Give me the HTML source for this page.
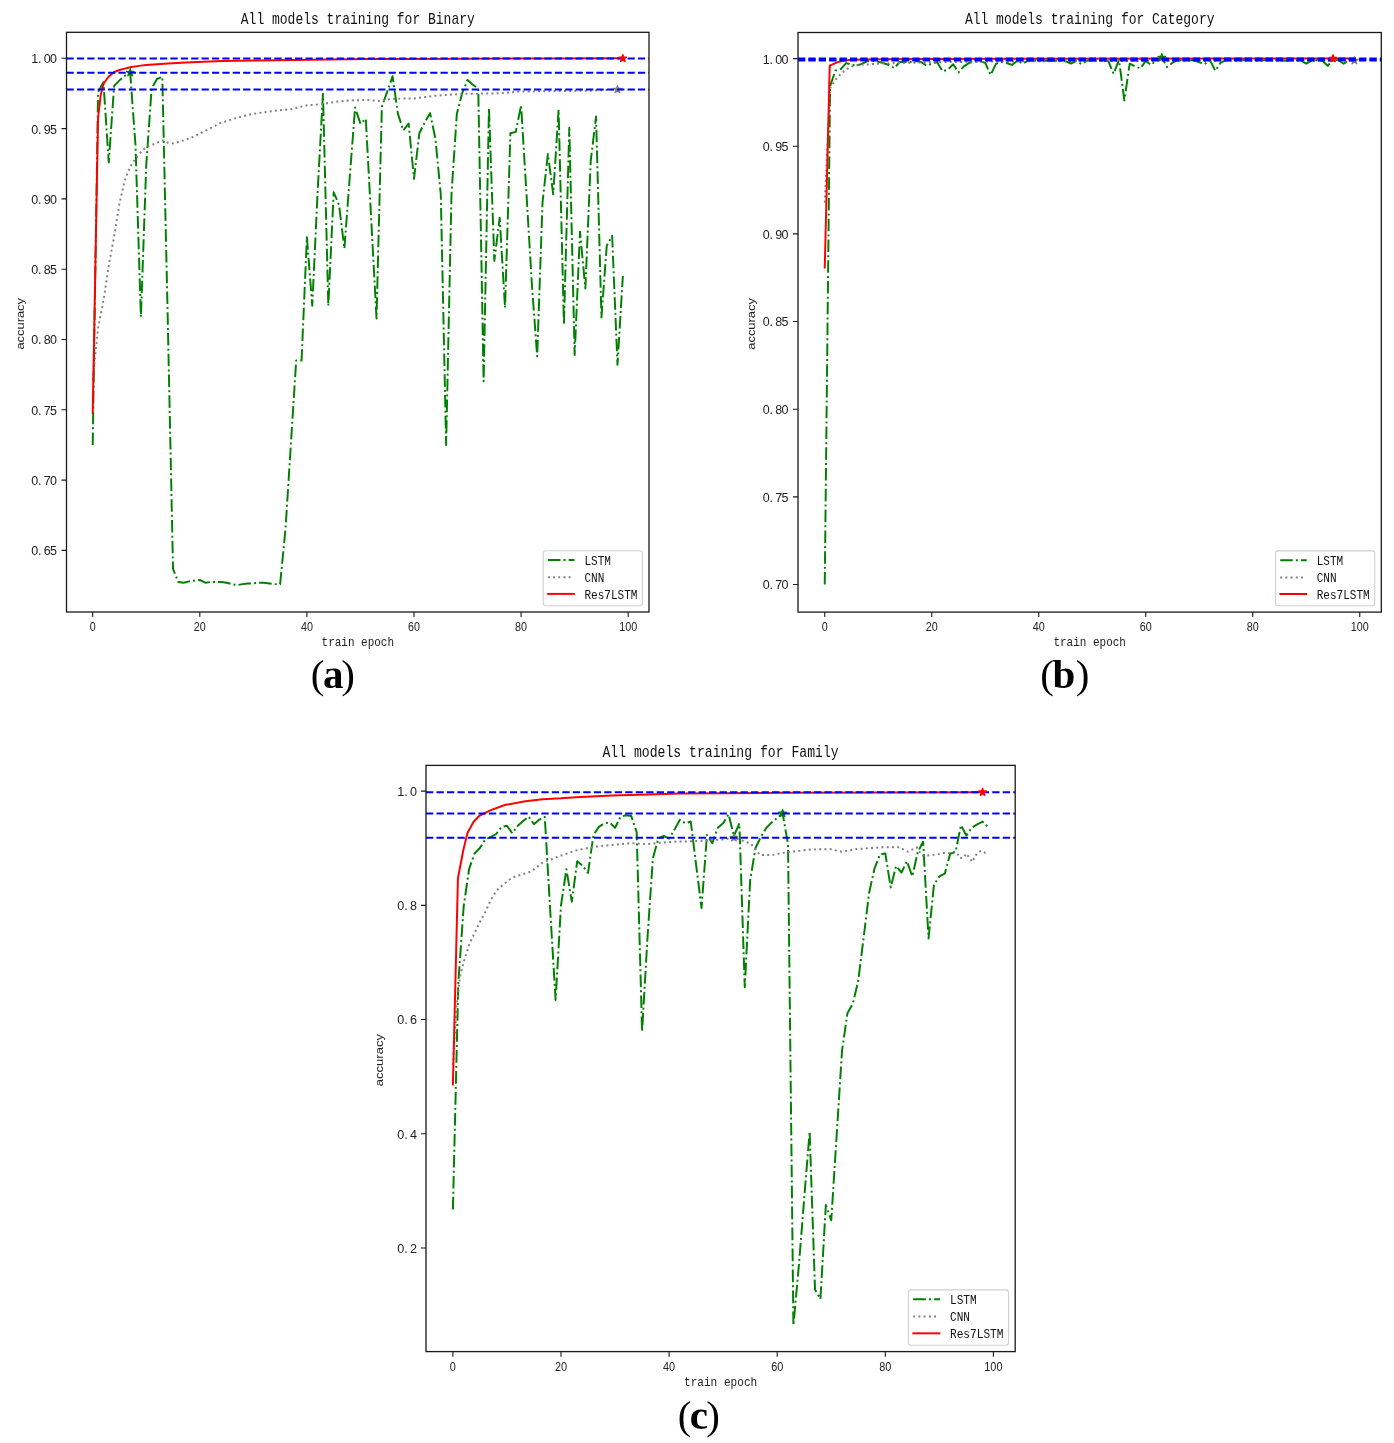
<!DOCTYPE html>
<html><head><meta charset="utf-8"><title>training charts</title>
<style>html,body{margin:0;padding:0;background:#fff;width:1394px;height:1443px;overflow:hidden}svg{display:block;will-change:transform}</style>
</head><body>
<svg width="1394" height="1443" viewBox="0 0 1394 1443">
<rect width="1394" height="1443" fill="#fff"/>
<clipPath id="clipa"><rect x="66.50" y="32.30" width="582.50" height="579.70"/></clipPath>
<g clip-path="url(#clipa)" fill="none" stroke-width="1.960" stroke-linejoin="round">
<polyline points="92.70,444.95 98.06,92.04 103.41,82.20 108.77,162.34 114.12,85.86 119.48,80.37 124.83,75.73 130.19,72.64 135.54,146.18 140.90,317.00 146.25,165.16 151.61,88.67 156.96,78.97 162.31,76.86 167.67,315.60 173.03,568.96 178.38,582.04 183.74,582.74 189.09,581.33 194.44,580.63 199.80,579.93 205.16,582.74 210.51,582.04 215.87,582.04 221.22,582.04 226.57,582.74 231.93,584.14 237.29,585.13 242.64,584.14 248.00,583.44 253.35,583.44 258.71,582.74 264.06,582.74 269.42,583.44 274.77,584.14 280.12,584.14 285.48,529.31 290.84,444.95 296.19,360.59 301.55,360.59 306.90,237.14 312.25,305.76 317.61,192.29 322.97,93.73 328.32,305.76 333.68,192.29 339.03,204.81 344.39,248.53 349.74,177.25 355.10,107.51 360.45,123.68 365.81,118.76 371.16,218.58 376.51,318.41 381.87,106.81 387.23,91.62 392.58,76.30 397.94,113.84 403.29,130.43 408.65,123.54 414.00,178.93 419.36,133.24 424.71,122.55 430.06,113.13 435.42,138.72 440.78,194.26 446.13,445.09 451.49,194.26 456.84,113.84 462.19,93.03 467.55,79.95 472.91,84.73 478.26,88.81 483.62,381.26 488.97,108.21 494.33,260.76 499.68,217.74 505.04,307.87 510.39,133.24 515.75,131.83 521.10,105.40 526.46,193.56 531.81,283.26 537.17,356.37 542.52,202.42 547.88,153.91 553.23,194.26 558.59,109.62 563.94,324.46 569.30,127.62 574.65,354.97 580.01,231.66 585.36,288.46 590.72,160.94 596.07,116.51 601.43,317.43 606.78,245.44 612.14,235.74 617.49,364.81 622.85,275.95" stroke="#008000" stroke-dasharray="12.540,3.140,1.960,3.140"/>
<polyline points="92.70,380.00 98.06,328.00 103.41,301.00 108.77,265.50 114.12,236.40 119.48,203.20 124.83,180.30 130.19,166.80 135.54,158.50 140.90,152.20 146.25,147.00 151.61,145.00 156.96,142.90 162.31,140.40 167.67,142.50 173.03,143.50 178.38,142.00 190.70,138.10 205.69,130.60 220.68,123.00 236.21,118.00 251.21,114.20 258.71,113.00 276.38,110.50 291.37,109.20 306.36,105.40 321.36,104.20 336.35,101.70 349.74,100.40 367.41,100.00 379.73,101.00 392.04,98.70 413.46,98.50 435.42,95.70 463.27,93.80 491.11,93.50 505.04,93.00 518.42,91.60 560.19,91.00 588.04,90.80 617.49,89.60 622.85,89.60" stroke="#808080" stroke-dasharray="1.960,3.230"/>
<polyline points="92.70,413.00 98.06,118.00 100.73,95.00 103.41,84.20 106.09,80.00 108.77,76.50 114.12,72.00 119.48,70.00 124.83,68.60 130.19,67.30 135.54,66.40 140.90,65.60 146.25,65.00 150.00,64.70 167.67,63.50 185.88,62.60 221.76,61.10 257.63,60.40 293.51,59.90 329.39,59.50 365.27,59.00 400.08,59.00 467.55,58.70 547.88,58.50 622.85,58.30" stroke="#ff0000" stroke-linecap="square"/>
<path d="M130.19,68.70 L131.06,71.39 L133.89,71.39 L131.60,73.06 L132.48,75.76 L130.19,74.09 L127.89,75.76 L128.77,73.06 L126.48,71.39 L129.31,71.39 Z" fill="#008000" stroke="#008000" stroke-width="1.30"/>
<path d="M617.49,85.60 L618.37,88.29 L621.20,88.29 L618.91,89.96 L619.78,92.66 L617.49,90.99 L615.20,92.66 L616.07,89.96 L613.78,88.29 L616.61,88.29 Z" fill="#808080" stroke="#808080" stroke-width="1.30"/>
<line x1="66.50" y1="58.40" x2="649.00" y2="58.40" stroke="#0000ff" stroke-dasharray="7.250,3.140"/>
<line x1="66.50" y1="72.70" x2="649.00" y2="72.70" stroke="#0000ff" stroke-dasharray="7.250,3.140"/>
<line x1="66.50" y1="89.40" x2="649.00" y2="89.40" stroke="#0000ff" stroke-dasharray="7.250,3.140"/>
<path d="M622.85,54.50 L623.72,57.19 L626.55,57.19 L624.26,58.86 L625.14,61.56 L622.85,59.89 L620.55,61.56 L621.43,58.86 L619.14,57.19 L621.97,57.19 Z" fill="#ff0000" stroke="#ff0000" stroke-width="1.30"/>
</g>
<rect x="66.50" y="32.30" width="582.50" height="579.70" fill="none" stroke="#1a1a1a" stroke-width="1.30"/>
<path d="M92.70,612.00v5.00 M199.80,612.00v5.00 M306.90,612.00v5.00 M414.00,612.00v5.00 M521.10,612.00v5.00 M628.20,612.00v5.00 M66.50,58.30h-5.00 M66.50,128.60h-5.00 M66.50,198.90h-5.00 M66.50,269.20h-5.00 M66.50,339.50h-5.00 M66.50,409.80h-5.00 M66.50,480.10h-5.00 M66.50,550.40h-5.00" stroke="#1a1a1a" stroke-width="1.10" fill="none"/>
<text x="92.7" y="630.8" font-family="Liberation Sans" font-size="12.10" font-weight="normal" text-anchor="middle" fill="#222" textLength="6.0" lengthAdjust="spacingAndGlyphs">0</text>
<text x="199.8" y="630.8" font-family="Liberation Sans" font-size="12.10" font-weight="normal" text-anchor="middle" fill="#222" textLength="12.0" lengthAdjust="spacingAndGlyphs">20</text>
<text x="306.9" y="630.8" font-family="Liberation Sans" font-size="12.10" font-weight="normal" text-anchor="middle" fill="#222" textLength="12.0" lengthAdjust="spacingAndGlyphs">40</text>
<text x="414.0" y="630.8" font-family="Liberation Sans" font-size="12.10" font-weight="normal" text-anchor="middle" fill="#222" textLength="12.0" lengthAdjust="spacingAndGlyphs">60</text>
<text x="521.1" y="630.8" font-family="Liberation Sans" font-size="12.10" font-weight="normal" text-anchor="middle" fill="#222" textLength="12.0" lengthAdjust="spacingAndGlyphs">80</text>
<text x="628.2" y="630.8" font-family="Liberation Sans" font-size="12.10" font-weight="normal" text-anchor="middle" fill="#222" textLength="18.0" lengthAdjust="spacingAndGlyphs">100</text>
<text x="34.70 39.70 47.30 53.60" y="63.20" font-family="Liberation Sans" font-size="12.50" text-anchor="middle" fill="#222">1.00</text>
<text x="34.70 39.70 47.30 53.60" y="133.50" font-family="Liberation Sans" font-size="12.50" text-anchor="middle" fill="#222">0.95</text>
<text x="34.70 39.70 47.30 53.60" y="203.80" font-family="Liberation Sans" font-size="12.50" text-anchor="middle" fill="#222">0.90</text>
<text x="34.70 39.70 47.30 53.60" y="274.10" font-family="Liberation Sans" font-size="12.50" text-anchor="middle" fill="#222">0.85</text>
<text x="34.70 39.70 47.30 53.60" y="344.40" font-family="Liberation Sans" font-size="12.50" text-anchor="middle" fill="#222">0.80</text>
<text x="34.70 39.70 47.30 53.60" y="414.70" font-family="Liberation Sans" font-size="12.50" text-anchor="middle" fill="#222">0.75</text>
<text x="34.70 39.70 47.30 53.60" y="485.00" font-family="Liberation Sans" font-size="12.50" text-anchor="middle" fill="#222">0.70</text>
<text x="34.70 39.70 47.30 53.60" y="555.30" font-family="Liberation Sans" font-size="12.50" text-anchor="middle" fill="#222">0.65</text>
<text x="357.8" y="23.8" font-family="Liberation Mono" font-size="16.20" font-weight="normal" text-anchor="middle" fill="#111" textLength="234.0" lengthAdjust="spacingAndGlyphs">All models training for Binary</text>
<text x="357.8" y="645.8" font-family="Liberation Mono" font-size="12.40" font-weight="normal" text-anchor="middle" fill="#222" textLength="72.5" lengthAdjust="spacingAndGlyphs">train epoch</text>
<text transform="translate(23.9,323.8) rotate(-90)" font-family="Liberation Sans" font-size="11.50" text-anchor="middle" fill="#222" textLength="51.60" lengthAdjust="spacingAndGlyphs">accuracy</text>
<rect x="543.20" y="550.80" width="99.20" height="54.90" rx="2.60" fill="#fff" fill-opacity="0.8" stroke="#d0d0d0" stroke-width="1.10"/>
<line x1="547.90" y1="560.10" x2="574.50" y2="560.10" stroke="#008000" stroke-width="1.960" stroke-dasharray="12.540,3.140,1.960,3.140"/>
<text x="584.4" y="564.7" font-family="Liberation Mono" font-size="12.90" font-weight="normal" text-anchor="start" fill="#111" textLength="26.5" lengthAdjust="spacingAndGlyphs">LSTM</text>
<line x1="547.90" y1="577.30" x2="573.50" y2="577.30" stroke="#808080" stroke-width="1.960" stroke-dasharray="1.960,3.230"/>
<text x="584.4" y="581.9" font-family="Liberation Mono" font-size="12.90" font-weight="normal" text-anchor="start" fill="#111" textLength="19.9" lengthAdjust="spacingAndGlyphs">CNN</text>
<line x1="548.10" y1="593.90" x2="573.90" y2="593.90" stroke="#ff0000" stroke-width="1.960" stroke-linecap="square"/>
<text x="584.4" y="598.5" font-family="Liberation Mono" font-size="12.90" font-weight="normal" text-anchor="start" fill="#111" textLength="53.0" lengthAdjust="spacingAndGlyphs">Res7LSTM</text>
<text x="317.50 348.20" y="688.3" font-family="Liberation Serif" font-size="41.0" text-anchor="middle" fill="#000">()</text>
<text x="333.30" y="688.3" font-family="Liberation Serif" font-weight="bold" font-size="41.0" text-anchor="middle" fill="#000">a</text>
<clipPath id="clipb"><rect x="798.00" y="32.50" width="583.30" height="579.60"/></clipPath>
<g clip-path="url(#clipb)" fill="none" stroke-width="1.960" stroke-linejoin="round">
<polyline points="824.75,584.50 830.10,86.00 835.45,70.50 840.80,69.20 846.15,63.10 851.50,64.50 856.85,65.70 862.20,63.70 867.55,61.10 872.90,60.80 878.25,61.80 883.60,63.10 888.95,65.00 894.30,68.10 899.65,62.00 905.00,62.00 910.35,62.00 915.70,61.00 921.05,62.00 926.40,65.50 931.75,63.80 937.10,62.00 942.45,71.10 947.80,69.80 953.15,64.20 958.50,72.40 963.85,66.40 969.20,62.90 974.55,61.60 979.90,61.20 985.25,62.90 990.60,75.00 995.95,63.80 1001.30,62.00 1006.65,63.00 1012.00,64.90 1017.35,60.70 1022.70,63.50 1028.05,60.70 1033.40,60.40 1038.75,60.40 1044.10,60.70 1049.45,60.40 1054.80,60.70 1060.15,60.70 1065.50,61.20 1070.85,63.50 1076.20,61.20 1081.55,64.00 1086.90,60.70 1092.25,60.40 1097.60,60.40 1102.95,60.70 1108.30,61.20 1113.65,73.80 1119.00,59.80 1124.35,100.40 1129.70,63.70 1135.05,66.50 1140.40,68.30 1145.75,61.00 1151.10,65.00 1156.45,60.00 1161.80,57.60 1167.15,66.90 1172.50,62.70 1177.85,60.10 1183.20,60.20 1188.55,60.20 1193.90,60.20 1199.25,62.30 1204.60,64.10 1209.95,60.10 1215.30,70.70 1220.65,62.70 1226.00,60.20 1231.35,60.20 1236.70,60.20 1242.05,60.20 1247.40,60.20 1252.75,60.20 1258.10,60.20 1263.45,60.20 1268.80,60.20 1274.15,60.20 1279.50,60.20 1284.85,60.80 1290.20,60.20 1295.55,60.20 1300.90,60.70 1306.25,63.70 1311.60,60.70 1316.95,60.20 1322.30,60.70 1327.65,65.80 1333.00,59.70 1338.35,60.20 1343.70,63.70 1349.05,60.20 1354.40,60.70" stroke="#008000" stroke-dasharray="12.540,3.140,1.960,3.140"/>
<polyline points="824.75,202.60 830.10,88.00 835.77,79.50 839.20,75.70 842.94,72.10 847.22,68.90 851.50,66.60 856.32,65.30 861.66,64.70 867.01,64.40 878.25,63.70 894.30,63.10 931.75,62.30 985.25,61.60 1092.25,61.00 1199.25,60.80 1354.40,60.60" stroke="#808080" stroke-dasharray="1.960,3.230"/>
<polyline points="824.75,267.50 829.73,65.70 837.05,62.40 844.01,60.50 851.50,59.80 878.25,59.30 931.75,58.90 1038.75,58.70 1333.00,58.50 1354.40,58.50" stroke="#ff0000" stroke-linecap="square"/>
<path d="M1161.80,53.70 L1162.68,56.39 L1165.51,56.39 L1163.22,58.06 L1164.09,60.76 L1161.80,59.09 L1159.51,60.76 L1160.38,58.06 L1158.09,56.39 L1160.92,56.39 Z" fill="#008000" stroke="#008000" stroke-width="1.30"/>
<path d="M1354.40,56.70 L1355.28,59.39 L1358.11,59.39 L1355.82,61.06 L1356.69,63.76 L1354.40,62.09 L1352.11,63.76 L1352.98,61.06 L1350.69,59.39 L1353.52,59.39 Z" fill="#808080" stroke="#808080" stroke-width="1.30"/>
<line x1="798.00" y1="58.60" x2="1381.30" y2="58.60" stroke="#0000ff" stroke-dasharray="7.250,3.140"/>
<line x1="798.00" y1="59.50" x2="1381.30" y2="59.50" stroke="#0000ff" stroke-dasharray="7.250,3.140"/>
<line x1="798.00" y1="60.60" x2="1381.30" y2="60.60" stroke="#0000ff" stroke-dasharray="7.250,3.140"/>
<path d="M1333.00,54.60 L1333.88,57.29 L1336.71,57.29 L1334.42,58.96 L1335.29,61.66 L1333.00,59.99 L1330.71,61.66 L1331.58,58.96 L1329.29,57.29 L1332.12,57.29 Z" fill="#ff0000" stroke="#ff0000" stroke-width="1.30"/>
</g>
<rect x="798.00" y="32.50" width="583.30" height="579.60" fill="none" stroke="#1a1a1a" stroke-width="1.30"/>
<path d="M824.75,612.10v5.00 M931.75,612.10v5.00 M1038.75,612.10v5.00 M1145.75,612.10v5.00 M1252.75,612.10v5.00 M1359.75,612.10v5.00 M798.00,58.60h-5.00 M798.00,146.25h-5.00 M798.00,233.90h-5.00 M798.00,321.55h-5.00 M798.00,409.20h-5.00 M798.00,496.85h-5.00 M798.00,584.50h-5.00" stroke="#1a1a1a" stroke-width="1.10" fill="none"/>
<text x="824.8" y="630.9" font-family="Liberation Sans" font-size="12.10" font-weight="normal" text-anchor="middle" fill="#222" textLength="6.0" lengthAdjust="spacingAndGlyphs">0</text>
<text x="931.8" y="630.9" font-family="Liberation Sans" font-size="12.10" font-weight="normal" text-anchor="middle" fill="#222" textLength="12.0" lengthAdjust="spacingAndGlyphs">20</text>
<text x="1038.8" y="630.9" font-family="Liberation Sans" font-size="12.10" font-weight="normal" text-anchor="middle" fill="#222" textLength="12.0" lengthAdjust="spacingAndGlyphs">40</text>
<text x="1145.8" y="630.9" font-family="Liberation Sans" font-size="12.10" font-weight="normal" text-anchor="middle" fill="#222" textLength="12.0" lengthAdjust="spacingAndGlyphs">60</text>
<text x="1252.8" y="630.9" font-family="Liberation Sans" font-size="12.10" font-weight="normal" text-anchor="middle" fill="#222" textLength="12.0" lengthAdjust="spacingAndGlyphs">80</text>
<text x="1359.8" y="630.9" font-family="Liberation Sans" font-size="12.10" font-weight="normal" text-anchor="middle" fill="#222" textLength="18.0" lengthAdjust="spacingAndGlyphs">100</text>
<text x="766.20 771.20 778.80 785.10" y="63.50" font-family="Liberation Sans" font-size="12.50" text-anchor="middle" fill="#222">1.00</text>
<text x="766.20 771.20 778.80 785.10" y="151.15" font-family="Liberation Sans" font-size="12.50" text-anchor="middle" fill="#222">0.95</text>
<text x="766.20 771.20 778.80 785.10" y="238.80" font-family="Liberation Sans" font-size="12.50" text-anchor="middle" fill="#222">0.90</text>
<text x="766.20 771.20 778.80 785.10" y="326.45" font-family="Liberation Sans" font-size="12.50" text-anchor="middle" fill="#222">0.85</text>
<text x="766.20 771.20 778.80 785.10" y="414.10" font-family="Liberation Sans" font-size="12.50" text-anchor="middle" fill="#222">0.80</text>
<text x="766.20 771.20 778.80 785.10" y="501.75" font-family="Liberation Sans" font-size="12.50" text-anchor="middle" fill="#222">0.75</text>
<text x="766.20 771.20 778.80 785.10" y="589.40" font-family="Liberation Sans" font-size="12.50" text-anchor="middle" fill="#222">0.70</text>
<text x="1089.7" y="24.0" font-family="Liberation Mono" font-size="16.20" font-weight="normal" text-anchor="middle" fill="#111" textLength="249.6" lengthAdjust="spacingAndGlyphs">All models training for Category</text>
<text x="1089.7" y="645.9" font-family="Liberation Mono" font-size="12.40" font-weight="normal" text-anchor="middle" fill="#222" textLength="72.5" lengthAdjust="spacingAndGlyphs">train epoch</text>
<text transform="translate(755.4,323.9) rotate(-90)" font-family="Liberation Sans" font-size="11.50" text-anchor="middle" fill="#222" textLength="51.60" lengthAdjust="spacingAndGlyphs">accuracy</text>
<rect x="1275.50" y="550.90" width="99.20" height="54.90" rx="2.60" fill="#fff" fill-opacity="0.8" stroke="#d0d0d0" stroke-width="1.10"/>
<line x1="1280.20" y1="560.20" x2="1306.80" y2="560.20" stroke="#008000" stroke-width="1.960" stroke-dasharray="12.540,3.140,1.960,3.140"/>
<text x="1316.7" y="564.8" font-family="Liberation Mono" font-size="12.90" font-weight="normal" text-anchor="start" fill="#111" textLength="26.5" lengthAdjust="spacingAndGlyphs">LSTM</text>
<line x1="1280.20" y1="577.40" x2="1305.80" y2="577.40" stroke="#808080" stroke-width="1.960" stroke-dasharray="1.960,3.230"/>
<text x="1316.7" y="582.0" font-family="Liberation Mono" font-size="12.90" font-weight="normal" text-anchor="start" fill="#111" textLength="19.9" lengthAdjust="spacingAndGlyphs">CNN</text>
<line x1="1280.40" y1="594.00" x2="1306.20" y2="594.00" stroke="#ff0000" stroke-width="1.960" stroke-linecap="square"/>
<text x="1316.7" y="598.6" font-family="Liberation Mono" font-size="12.90" font-weight="normal" text-anchor="start" fill="#111" textLength="53.0" lengthAdjust="spacingAndGlyphs">Res7LSTM</text>
<text x="1047.20 1082.50" y="688.3" font-family="Liberation Serif" font-size="41.0" text-anchor="middle" fill="#000">()</text>
<text x="1063.80" y="688.3" font-family="Liberation Serif" font-weight="bold" font-size="41.0" text-anchor="middle" fill="#000">b</text>
<clipPath id="clipc"><rect x="426.00" y="765.40" width="589.20" height="586.20"/></clipPath>
<g clip-path="url(#clipc)" fill="none" stroke-width="1.978" stroke-linejoin="round">
<polyline points="452.90,1209.50 458.30,983.00 463.71,906.00 469.11,869.00 474.52,853.50 479.92,848.00 485.33,839.50 490.73,837.00 496.14,834.00 501.54,827.00 506.95,825.70 512.36,833.30 517.76,825.70 523.16,821.00 528.57,816.60 533.98,824.20 539.38,819.60 544.78,817.00 550.19,910.00 555.60,1000.00 561.00,905.30 566.40,869.30 571.81,901.70 577.22,861.20 582.62,865.70 588.02,872.90 593.43,835.00 598.84,826.90 604.24,823.30 609.64,822.40 615.05,827.80 620.45,817.00 625.86,815.20 631.26,816.10 636.67,832.30 642.08,1031.40 647.48,937.70 652.88,858.50 658.29,838.60 663.69,836.00 669.10,838.60 674.50,829.60 679.91,819.70 685.32,823.30 690.72,821.50 696.12,864.80 701.53,908.00 706.93,835.00 712.34,843.20 717.75,827.80 723.15,823.30 728.56,814.30 733.96,836.00 739.37,823.30 744.77,987.30 750.17,880.10 755.58,847.70 760.99,836.80 766.39,827.80 771.80,822.40 777.20,817.90 782.61,813.40 788.01,844.00 793.41,1325.40 798.82,1266.00 804.22,1198.00 809.63,1131.60 815.03,1289.60 820.44,1299.00 825.85,1205.00 831.25,1220.30 836.65,1135.50 842.06,1050.30 847.46,1013.20 852.87,1003.50 858.27,980.50 863.68,937.30 869.09,893.00 874.49,868.50 879.89,854.60 885.30,853.40 890.70,887.40 896.11,866.00 901.51,872.50 906.92,861.20 912.33,876.50 917.73,852.20 923.13,841.80 928.54,938.50 933.94,884.90 939.35,876.30 944.75,873.70 950.16,853.70 955.57,852.00 960.97,825.10 966.38,835.50 971.78,827.70 977.18,824.30 982.59,821.70 988.00,826.90" stroke="#008000" stroke-dasharray="12.657,3.169,1.978,3.169"/>
<polyline points="452.90,1065.00 456.68,1005.00 459.93,977.00 463.71,962.00 469.11,945.00 474.52,933.00 479.92,922.00 485.33,912.00 490.73,900.00 496.14,891.00 501.54,886.00 512.36,877.50 531.27,871.40 542.08,863.00 558.30,856.50 576.13,850.40 593.97,846.80 611.81,845.00 630.18,843.20 648.02,844.00 665.86,842.30 679.91,841.40 688.02,841.40 705.85,840.50 723.69,839.50 733.96,837.70 742.07,840.50 751.26,844.00 759.90,854.90 772.88,854.90 786.93,852.20 810.17,849.50 830.17,849.10 841.52,851.70 856.11,849.10 882.06,847.30 899.35,847.30 908.00,851.70 916.65,847.30 922.05,855.50 927.46,855.50 932.32,854.90 938.27,854.20 943.13,853.00 948.54,853.30 953.94,851.70 957.19,853.00 959.89,858.10 963.13,858.10 966.38,853.60 969.62,858.10 972.32,862.00 974.48,857.50 977.18,853.00 981.51,850.70 985.29,853.00 988.00,852.50" stroke="#808080" stroke-dasharray="1.978,3.260"/>
<polyline points="452.90,1084.60 457.93,878.20 463.28,850.20 467.49,833.00 473.44,822.00 479.38,815.80 490.19,810.40 504.79,805.00 525.33,801.30 542.62,799.20 561.00,798.30 576.13,797.20 611.81,795.40 648.02,794.50 679.91,793.60 777.20,792.80 885.30,792.40 982.59,792.20" stroke="#ff0000" stroke-linecap="square"/>
<path d="M782.61,809.46 L783.49,812.18 L786.35,812.18 L784.03,813.86 L784.92,816.58 L782.61,814.90 L780.29,816.58 L781.18,813.86 L778.86,812.18 L781.72,812.18 Z" fill="#008000" stroke="#008000" stroke-width="1.31"/>
<path d="M733.96,833.76 L734.84,836.48 L737.70,836.48 L735.39,838.16 L736.27,840.88 L733.96,839.20 L731.65,840.88 L732.53,838.16 L730.22,836.48 L733.08,836.48 Z" fill="#808080" stroke="#808080" stroke-width="1.31"/>
<line x1="426.00" y1="792.20" x2="1015.20" y2="792.20" stroke="#0000ff" stroke-dasharray="7.317,3.169"/>
<line x1="426.00" y1="813.40" x2="1015.20" y2="813.40" stroke="#0000ff" stroke-dasharray="7.317,3.169"/>
<line x1="426.00" y1="837.70" x2="1015.20" y2="837.70" stroke="#0000ff" stroke-dasharray="7.317,3.169"/>
<path d="M982.59,788.26 L983.47,790.98 L986.33,790.98 L984.02,792.66 L984.90,795.38 L982.59,793.70 L980.28,795.38 L981.16,792.66 L978.85,790.98 L981.71,790.98 Z" fill="#ff0000" stroke="#ff0000" stroke-width="1.31"/>
</g>
<rect x="426.00" y="765.40" width="589.20" height="586.20" fill="none" stroke="#1a1a1a" stroke-width="1.31"/>
<path d="M452.90,1351.60v5.05 M561.00,1351.60v5.05 M669.10,1351.60v5.05 M777.20,1351.60v5.05 M885.30,1351.60v5.05 M993.40,1351.60v5.05 M426.00,791.10h-5.05 M426.00,905.32h-5.05 M426.00,1019.54h-5.05 M426.00,1133.76h-5.05 M426.00,1247.98h-5.05" stroke="#1a1a1a" stroke-width="1.11" fill="none"/>
<text x="452.9" y="1370.6" font-family="Liberation Sans" font-size="12.21" font-weight="normal" text-anchor="middle" fill="#222" textLength="6.1" lengthAdjust="spacingAndGlyphs">0</text>
<text x="561.0" y="1370.6" font-family="Liberation Sans" font-size="12.21" font-weight="normal" text-anchor="middle" fill="#222" textLength="12.1" lengthAdjust="spacingAndGlyphs">20</text>
<text x="669.1" y="1370.6" font-family="Liberation Sans" font-size="12.21" font-weight="normal" text-anchor="middle" fill="#222" textLength="12.1" lengthAdjust="spacingAndGlyphs">40</text>
<text x="777.2" y="1370.6" font-family="Liberation Sans" font-size="12.21" font-weight="normal" text-anchor="middle" fill="#222" textLength="12.1" lengthAdjust="spacingAndGlyphs">60</text>
<text x="885.3" y="1370.6" font-family="Liberation Sans" font-size="12.21" font-weight="normal" text-anchor="middle" fill="#222" textLength="12.1" lengthAdjust="spacingAndGlyphs">80</text>
<text x="993.4" y="1370.6" font-family="Liberation Sans" font-size="12.21" font-weight="normal" text-anchor="middle" fill="#222" textLength="18.2" lengthAdjust="spacingAndGlyphs">100</text>
<text x="400.88 405.93 413.60" y="796.05" font-family="Liberation Sans" font-size="12.62" text-anchor="middle" fill="#222">1.0</text>
<text x="400.88 405.93 413.60" y="910.27" font-family="Liberation Sans" font-size="12.62" text-anchor="middle" fill="#222">0.8</text>
<text x="400.88 405.93 413.60" y="1024.49" font-family="Liberation Sans" font-size="12.62" text-anchor="middle" fill="#222">0.6</text>
<text x="400.88 405.93 413.60" y="1138.71" font-family="Liberation Sans" font-size="12.62" text-anchor="middle" fill="#222">0.4</text>
<text x="400.88 405.93 413.60" y="1252.93" font-family="Liberation Sans" font-size="12.62" text-anchor="middle" fill="#222">0.2</text>
<text x="720.6" y="757.4" font-family="Liberation Mono" font-size="16.35" font-weight="normal" text-anchor="middle" fill="#111" textLength="236.2" lengthAdjust="spacingAndGlyphs">All models training for Family</text>
<text x="720.6" y="1385.7" font-family="Liberation Mono" font-size="12.52" font-weight="normal" text-anchor="middle" fill="#222" textLength="73.2" lengthAdjust="spacingAndGlyphs">train epoch</text>
<text transform="translate(383.0,1060.1) rotate(-90)" font-family="Liberation Sans" font-size="11.61" text-anchor="middle" fill="#222" textLength="52.08" lengthAdjust="spacingAndGlyphs">accuracy</text>
<rect x="908.42" y="1289.83" width="100.12" height="55.41" rx="2.62" fill="#fff" fill-opacity="0.8" stroke="#d0d0d0" stroke-width="1.11"/>
<line x1="913.16" y1="1299.22" x2="940.01" y2="1299.22" stroke="#008000" stroke-width="1.978" stroke-dasharray="12.657,3.169,1.978,3.169"/>
<text x="950.0" y="1303.9" font-family="Liberation Mono" font-size="13.02" font-weight="normal" text-anchor="start" fill="#111" textLength="26.7" lengthAdjust="spacingAndGlyphs">LSTM</text>
<line x1="913.16" y1="1316.58" x2="939.00" y2="1316.58" stroke="#808080" stroke-width="1.978" stroke-dasharray="1.978,3.260"/>
<text x="950.0" y="1321.2" font-family="Liberation Mono" font-size="13.02" font-weight="normal" text-anchor="start" fill="#111" textLength="20.0" lengthAdjust="spacingAndGlyphs">CNN</text>
<line x1="913.36" y1="1333.33" x2="939.40" y2="1333.33" stroke="#ff0000" stroke-width="1.978" stroke-linecap="square"/>
<text x="950.0" y="1338.0" font-family="Liberation Mono" font-size="13.02" font-weight="normal" text-anchor="start" fill="#111" textLength="53.5" lengthAdjust="spacingAndGlyphs">Res7LSTM</text>
<text x="684.50 713.20" y="1428.5" font-family="Liberation Serif" font-size="41.0" text-anchor="middle" fill="#000">()</text>
<text x="698.90" y="1428.5" font-family="Liberation Serif" font-weight="bold" font-size="41.0" text-anchor="middle" fill="#000">c</text>
</svg>
</body></html>
